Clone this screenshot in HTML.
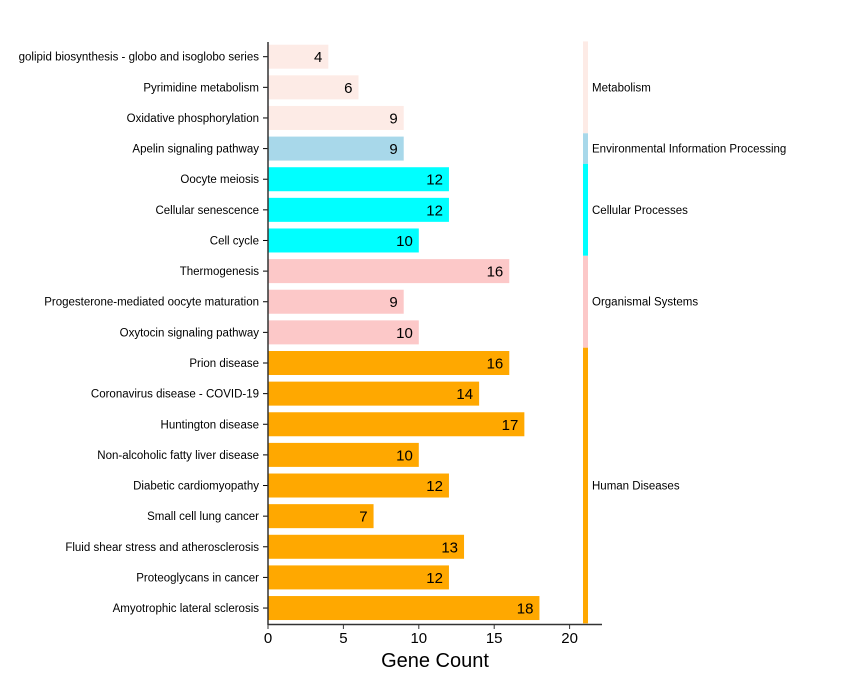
<!DOCTYPE html>
<html><head><meta charset="utf-8"><style>
body{margin:0;background:#fff;}
svg{display:block;font-family:"Liberation Sans",Arial,sans-serif;}
</style></head><body>
<svg id="c" width="841" height="691"></svg>
<script>
const categories=["golipid biosynthesis - globo and isoglobo series","Pyrimidine metabolism","Oxidative phosphorylation","Apelin signaling pathway","Oocyte meiosis","Cellular senescence","Cell cycle","Thermogenesis","Progesterone-mediated oocyte maturation","Oxytocin signaling pathway","Prion disease","Coronavirus disease - COVID-19","Huntington disease","Non-alcoholic fatty liver disease","Diabetic cardiomyopathy","Small cell lung cancer","Fluid shear stress and atherosclerosis","Proteoglycans in cancer","Amyotrophic lateral sclerosis"];
const values=[4,6,9,9,12,12,10,16,9,10,16,14,17,10,12,7,13,12,18];
const groups=["Metabolism","Metabolism","Metabolism","Environmental Information Processing","Cellular Processes","Cellular Processes","Cellular Processes","Organismal Systems","Organismal Systems","Organismal Systems","Human Diseases","Human Diseases","Human Diseases","Human Diseases","Human Diseases","Human Diseases","Human Diseases","Human Diseases","Human Diseases"];
const groupColors={"Metabolism":"#fdebe6","Environmental Information Processing":"#a8d8ea","Cellular Processes":"#00ffff","Organismal Systems":"#fcc8c8","Human Diseases":"#ffa800"};
const xTicks=[0,5,10,15,20];
const NS="http://www.w3.org/2000/svg";
const svg=document.getElementById('c');
const x0=268,xs=15.08,y0=56.7,dy=30.63,bh=24;
const X=v=>x0+v*xs, Y=i=>y0+i*dy;
function el(t,a,p){const e=document.createElementNS(NS,t);for(const k in a)e.setAttribute(k,a[k]);(p||svg).appendChild(e);return e;}
categories.forEach((c,i)=>{
 const r=el('rect',{x:x0,y:Y(i)-bh/2,width:X(values[i])-x0,height:bh,fill:groupColors[groups[i]]});
 
 
 const v=el('text',{x:X(values[i])-6,y:Y(i)+5.5,'text-anchor':'end','font-size':15,fill:'#000'});
 v.textContent=values[i];
 
 
 const l=el('text',{x:x0-9,y:Y(i)+4,'text-anchor':'end','font-size':11.5,fill:'#000'});
 l.textContent=c;
 
 
 el('line',{x1:x0-5,x2:x0,y1:Y(i),y2:Y(i),stroke:'#000','stroke-width':1});
});
let start=0;
for(let i=1;i<=groups.length;i++){
 if(i===groups.length||groups[i]!==groups[start]){
  const top=Y(start)-dy/2,bot=Y(i-1)+dy/2;
  const r=el('rect',{x:583,y:top,width:5,height:bot-top,fill:groupColors[groups[start]]});
  
  
  const t=el('text',{x:592,y:(top+bot)/2+4,'font-size':11.5,fill:'#000'});
  t.textContent=groups[start];
  
  
  start=i;
 }
}
const ya=el('line',{x1:x0,x2:x0,y1:42,y2:625,stroke:'#333','stroke-width':1.5});


const xa=el('line',{x1:x0,x2:602,y1:624.5,y2:624.5,stroke:'#333','stroke-width':1.5});


xTicks.forEach(t=>{
 el('line',{x1:X(t),x2:X(t),y1:624,y2:629,stroke:'#333','stroke-width':1});
 const tx=el('text',{x:X(t),y:643,'text-anchor':'middle','font-size':15,fill:'#000'});
 tx.textContent=t;
 
 
});
const tt=el('text',{x:435,y:667,'text-anchor':'middle','font-size':20,fill:'#000'});
tt.textContent='Gene Count';


</script>
</body></html>
